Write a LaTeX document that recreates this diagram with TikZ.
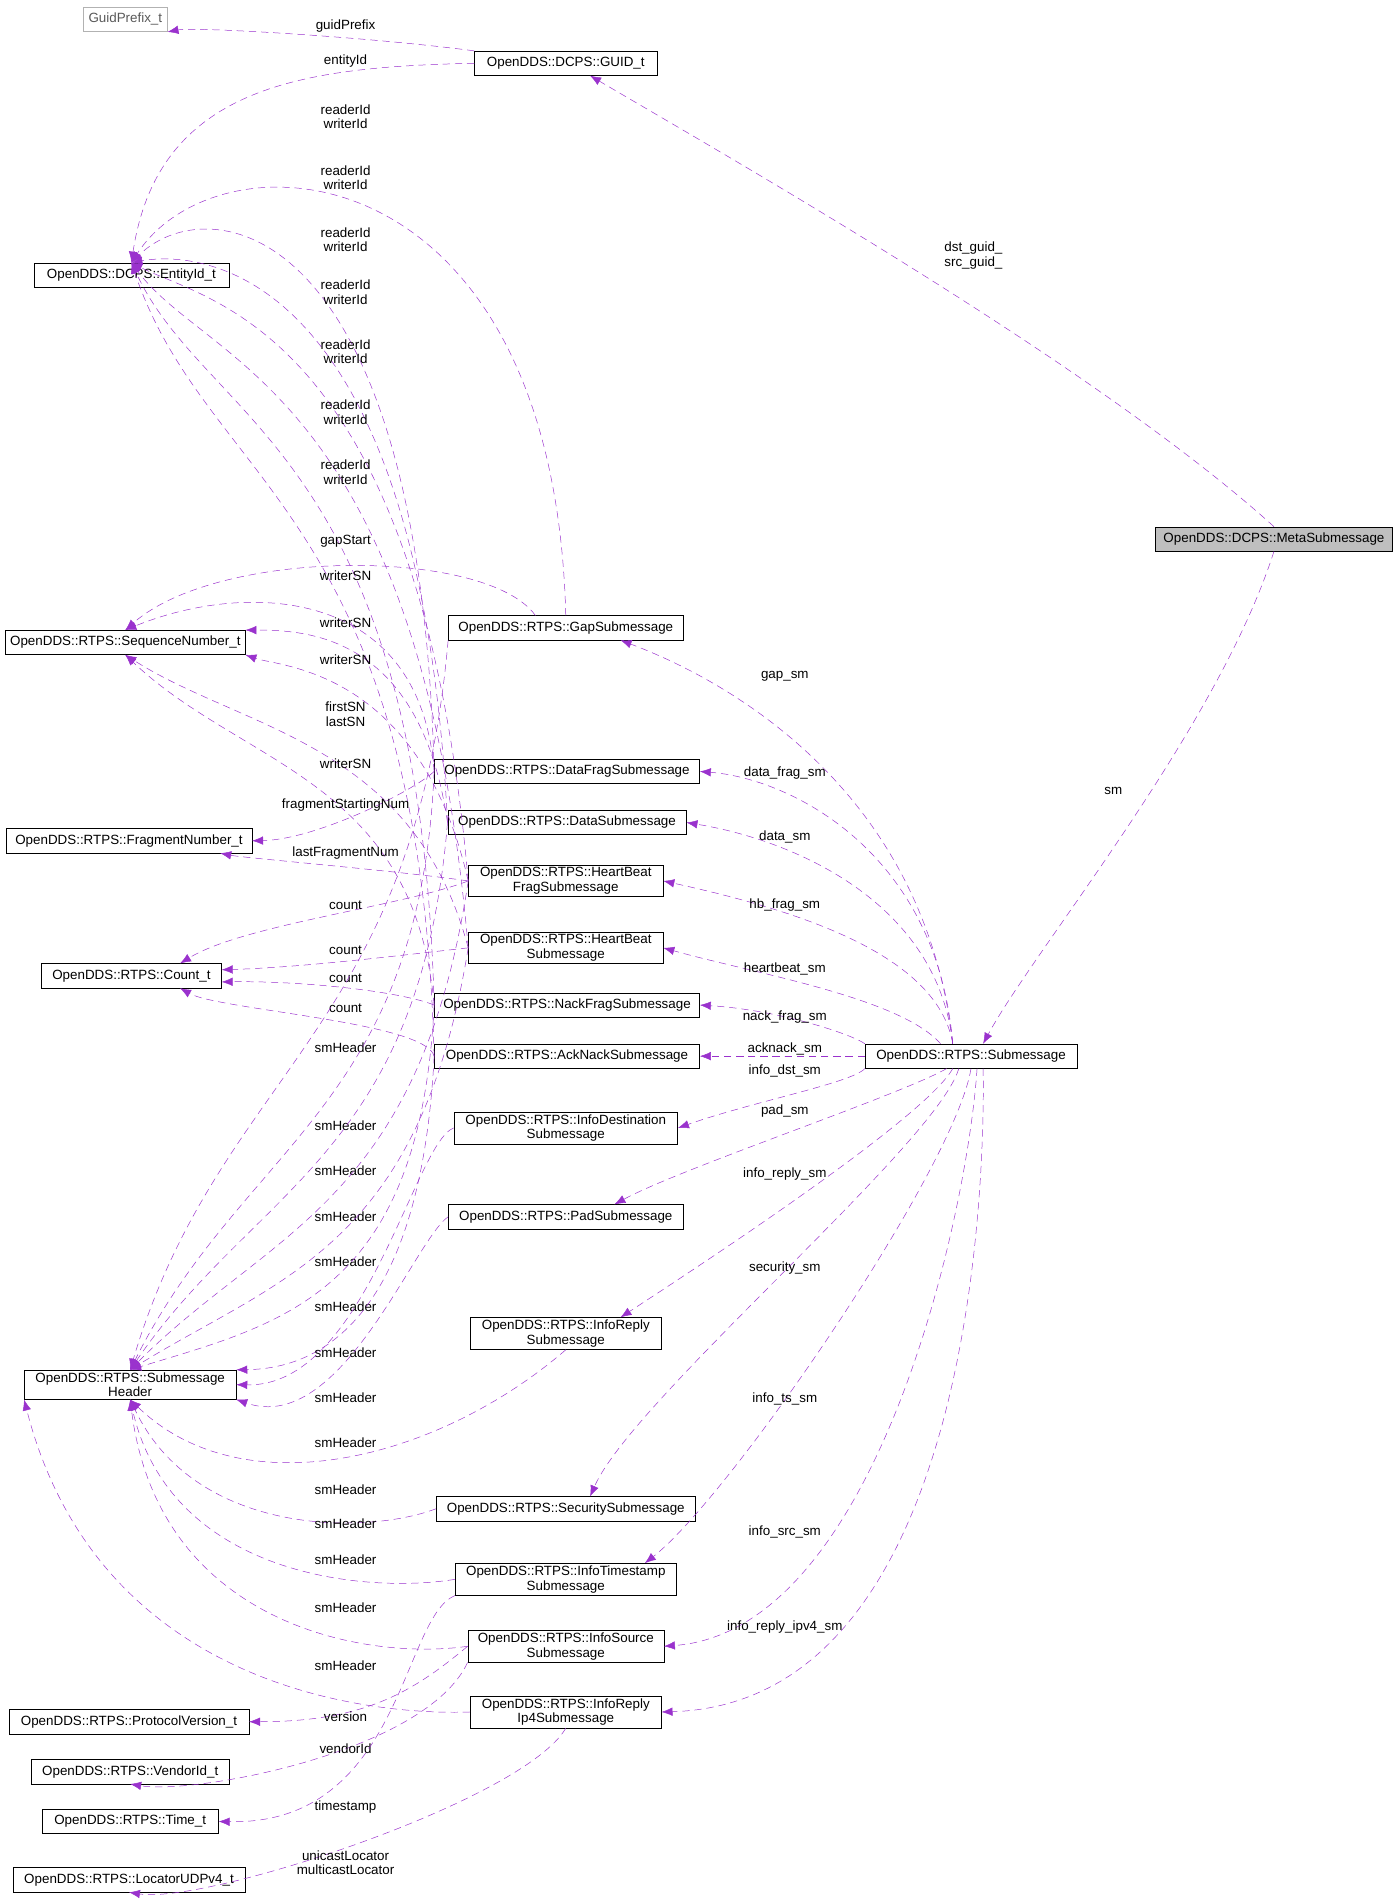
\documentclass[tikz,border=0pt]{standalone}
\usepackage{fontspec}
\setmainfont{Liberation Sans}
\usetikzlibrary{arrows.meta,calc}

\definecolor{edgepurple}{HTML}{9A32CD}

\tikzset{
  cls/.style={draw, fill=white, inner sep=2pt, minimum height=20pt, align=center, font=\fontsize{11}{12}\selectfont},
  edge/.style={draw=edgepurple, dashed, dash pattern=on 6pt off 4pt, -{Latex[length=9pt,width=7pt]}},
  lbl/.style={align=center, font=\fontsize{11}{12}\selectfont, inner sep=0pt}
}

% member link: source, control 1, control 2, target, label position, label
\newcommand{\link}[6]{%
  \draw[edge] (#1) .. controls (#2) and (#3) .. (#4);
  \node[lbl] at (#5) {#6};}

\begin{document}
\begin{tikzpicture}[x=1pt,y=-1pt]
  \useasboundingbox (0,0) rectangle (1150,1564);

  % member types on the left
  \node[cls, draw=gray!60, text=gray!70!black, minimum width=69pt] (guidprefix) at (103,16) {GuidPrefix\_t};
  \node[cls, minimum width=150pt] (guid) at (465,52) {OpenDDS::DCPS::GUID\_t};
  \node[cls, minimum width=160pt] (entityid) at (108,226) {OpenDDS::DCPS::EntityId\_t};
  \node[cls, minimum width=197pt] (seqnum) at (103,528) {OpenDDS::RTPS::SequenceNumber\_t};
  \node[cls, minimum width=202pt] (fragnum) at (106,691) {OpenDDS::RTPS::FragmentNumber\_t};
  \node[cls, minimum width=148pt] (count) at (108,802) {OpenDDS::RTPS::Count\_t};
  \node[cls, minimum width=174pt] (smheader) at (107,1138) {OpenDDS::RTPS::Submessage\\Header};
  \node[cls, minimum width=197pt] (protover) at (106,1415) {OpenDDS::RTPS::ProtocolVersion\_t};
  \node[cls, minimum width=162pt] (vendorid) at (107,1456) {OpenDDS::RTPS::VendorId\_t};
  \node[cls, minimum width=145pt] (time) at (107,1497) {OpenDDS::RTPS::Time\_t};
  \node[cls, minimum width=191pt] (locator) at (106,1545) {OpenDDS::RTPS::LocatorUDPv4\_t};

  % submessages in the middle
  \node[cls, minimum width=193pt] (gap) at (465,516) {OpenDDS::RTPS::GapSubmessage};
  \node[cls, minimum width=218pt] (datafrag) at (466,634) {OpenDDS::RTPS::DataFragSubmessage};
  \node[cls, minimum width=196pt] (data) at (466,676) {OpenDDS::RTPS::DataSubmessage};
  \node[cls, minimum width=160pt] (hbfrag) at (465,724) {OpenDDS::RTPS::HeartBeat\\FragSubmessage};
  \node[cls, minimum width=160pt] (hb) at (465,779) {OpenDDS::RTPS::HeartBeat\\Submessage};
  \node[cls, minimum width=218pt] (nackfrag) at (466,826) {OpenDDS::RTPS::NackFragSubmessage};
  \node[cls, minimum width=218pt] (acknack) at (466,868) {OpenDDS::RTPS::AckNackSubmessage};
  \node[cls, minimum width=184pt] (infodst) at (465,927) {OpenDDS::RTPS::InfoDestination\\Submessage};
  \node[cls, minimum width=193pt] (pad) at (465,1000) {OpenDDS::RTPS::PadSubmessage};
  \node[cls, minimum width=157pt] (inforeply) at (465,1096) {OpenDDS::RTPS::InfoReply\\Submessage};
  \node[cls, minimum width=213pt] (security) at (465,1240) {OpenDDS::RTPS::SecuritySubmessage};
  \node[cls, minimum width=182pt] (infots) at (465,1298) {OpenDDS::RTPS::InfoTimestamp\\Submessage};
  \node[cls, minimum width=161pt] (infosrc) at (465,1353) {OpenDDS::RTPS::InfoSource\\Submessage};
  \node[cls, minimum width=157pt] (inforeplyip4) at (465,1407) {OpenDDS::RTPS::InfoReply\\Ip4Submessage};

  % right side
  \node[cls, minimum width=174pt] (submsg) at (798,868) {OpenDDS::RTPS::Submessage};
  \node[cls, fill=gray!50, minimum width=195pt] (meta) at (1047,443) {OpenDDS::DCPS::MetaSubmessage};

  % GUID
  \link{guid.north west}{300,30}{160,22}{guidprefix.south east}{284,21}{guidPrefix}
  \link{guid.west}{250,55}{130,70}{entityid.north}{284,50}{entityId}
  \link{meta.north}{900,300}{600,130}{$(guid.south)+(20,0)$}{800,210}{dst\_guid\_\\src\_guid\_}
  \link{meta.south}{1000,600}{850,780}{$(submsg.north)+(10,0)$}{915,650}{sm}

  % entity ids
  \link{gap.north}{455,120}{180,105}{entityid.north}{284,96}{readerId\\writerId}
  \link{datafrag.west}{345,175}{170,155}{entityid.north}{284,146}{readerId\\writerId}
  \link{data.west}{345,225}{170,205}{entityid.north}{284,197}{readerId\\writerId}
  \link{hbfrag.west}{345,270}{170,248}{entityid.north}{284,240}{readerId\\writerId}
  \link{hb.west}{345,320}{170,300}{entityid.north}{284,289}{readerId\\writerId}
  \link{nackfrag.west}{345,370}{170,350}{entityid.north}{284,339}{readerId\\writerId}
  \link{acknack.west}{345,420}{170,400}{entityid.north}{284,388}{readerId\\writerId}

  % sequence numbers
  \link{$(gap.north)+(-25,0)$}{400,450}{180,450}{seqnum.north}{284,445}{gapStart}
  \link{datafrag.west}{345,480}{200,478}{seqnum.north}{284,473}{writerSN}
  \link{data.west}{345,520}{250,518}{seqnum.north east}{284,512}{writerSN}
  \link{hbfrag.west}{345,550}{230,548}{seqnum.south east}{284,542}{writerSN}
  \link{hb.west}{340,610}{200,600}{seqnum.south}{284,587}{firstSN\\lastSN}
  \link{nackfrag.west}{340,640}{200,630}{seqnum.south}{284,628}{writerSN}

  % fragment numbers and counts
  \link{datafrag.west}{340,650}{260,690}{fragnum.east}{284,662}{fragmentStartingNum}
  \link{hbfrag.west}{330,716}{200,705}{$(fragnum.south)+(75,0)$}{284,701}{lastFragmentNum}
  \link{hbfrag.west}{330,745}{200,760}{$(count.north)+(40,0)$}{284,744}{count}
  \link{hb.west}{330,785}{250,795}{$(count.east)+(0,-5)$}{284,781}{count}
  \link{nackfrag.west}{330,815}{250,806}{$(count.east)+(0,5)$}{284,804}{count}
  \link{acknack.west}{350,840}{180,830}{$(count.south)+(40,0)$}{284,829}{count}

  % submessage headers
  \link{gap.south west}{340,850}{180,880}{smheader.north}{284,861}{smHeader}
  \link{datafrag.west}{345,910}{200,940}{smheader.north}{284,925}{smHeader}
  \link{data.west}{345,950}{210,975}{smheader.north}{284,962}{smHeader}
  \link{hbfrag.west}{345,990}{220,1012}{smheader.north}{284,1000}{smHeader}
  \link{hb.west}{345,1025}{230,1050}{smheader.north}{284,1037}{smHeader}
  \link{nackfrag.west}{345,1065}{230,1088}{smheader.north}{284,1074}{smHeader}
  \link{acknack.west}{345,1100}{250,1125}{smheader.north east}{284,1112}{smHeader}
  \link{infodst.west}{340,940}{300,1140}{smheader.east}{284,1149}{smHeader}
  \link{pad.west}{340,1020}{280,1180}{smheader.south east}{284,1186}{smHeader}
  \link{inforeply.south}{360,1200}{200,1240}{smheader.south}{284,1224}{smHeader}
  \link{security.west}{300,1262}{160,1262}{smheader.south}{284,1252}{smHeader}
  \link{infots.west}{300,1310}{140,1295}{smheader.south}{284,1282}{smHeader}
  \link{infosrc.west}{300,1365}{130,1335}{smheader.south}{284,1321}{smHeader}
  \link{inforeplyip4.west}{300,1410}{80,1385}{smheader.south west}{284,1369}{smHeader}

  % header fields
  \link{infosrc.west}{340,1390}{300,1415}{protover.east}{284,1411}{version}
  \link{infosrc.south west}{350,1440}{160,1475}{vendorid.south}{284,1437}{vendorId}
  \link{infots.south west}{330,1330}{330,1500}{time.east}{284,1485}{timestamp}
  \link{inforeplyip4.south}{430,1480}{170,1565}{locator.south}{284,1531}{unicastLocator\\multicastLocator}

  % submessage variants
  \link{$(submsg.north)+(-15,0)$}{760,650}{600,560}{$(gap.south)+(45,0)$}{645,556}{gap\_sm}
  \link{$(submsg.north)+(-15,0)$}{770,700}{650,640}{datafrag.east}{645,635}{data\_frag\_sm}
  \link{$(submsg.north)+(-15,0)$}{770,740}{650,690}{data.east}{645,688}{data\_sm}
  \link{$(submsg.north)+(-15,0)$}{770,780}{640,745}{hbfrag.east}{645,744}{hb\_frag\_sm}
  \link{$(submsg.north)+(-25,0)$}{740,820}{620,800}{hb.east}{645,796}{heartbeat\_sm}
  \link{submsg.north west}{700,850}{640,830}{nackfrag.east}{645,836}{nack\_frag\_sm}
  \link{submsg.west}{680,868}{620,868}{acknack.east}{645,862}{acknack\_sm}
  \link{submsg.south west}{700,890}{620,905}{infodst.east}{645,880}{info\_dst\_sm}
  \link{$(submsg.south)+(-20,0)$}{740,900}{560,960}{$(pad.north)+(40,0)$}{645,913}{pad\_sm}
  \link{$(submsg.south)+(-15,0)$}{760,920}{560,1050}{$(inforeply.north)+(45,0)$}{645,965}{info\_reply\_sm}
  \link{$(submsg.south)+(-10,0)$}{770,940}{520,1150}{$(security.north)+(20,0)$}{645,1042}{security\_sm}
  \link{submsg.south}{785,960}{600,1230}{$(infots.north)+(65,0)$}{645,1150}{info\_ts\_sm}
  \link{$(submsg.south)+(5,0)$}{795,1000}{720,1340}{infosrc.east}{645,1259}{info\_src\_sm}
  \link{$(submsg.south)+(10,0)$}{810,1000}{790,1400}{inforeplyip4.east}{645,1337}{info\_reply\_ipv4\_sm}
\end{tikzpicture}
\end{document}
